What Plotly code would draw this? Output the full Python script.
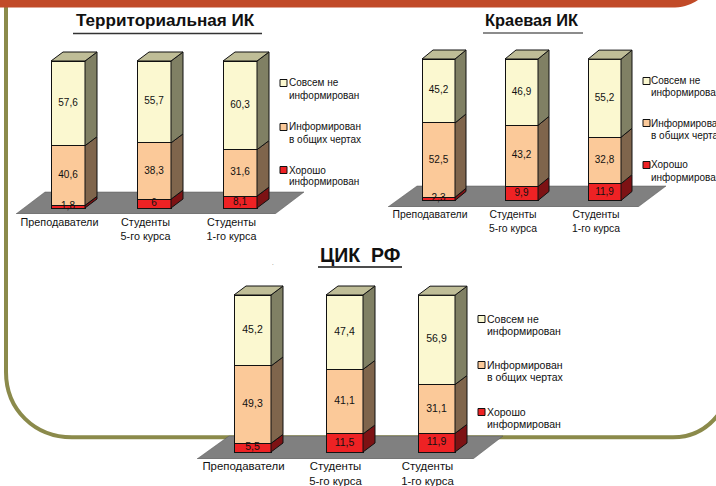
import plotly.graph_objects as go

W, H = 716, 486

categories = ["Преподаватели", "Студенты<br>5-го курса", "Студенты<br>1-го курса"]
series_names = ["Хорошо<br>информирован", "Информирован<br>в общих чертах", "Совсем не<br>информирован"]

terr_good = [1.8, 6, 8.1]
terr_general = [40.6, 38.3, 31.6]
terr_none = [57.6, 55.7, 60.3]

krai_good = [2.3, 9.9, 11.9]
krai_general = [52.5, 43.2, 32.8]
krai_none = [45.2, 46.9, 55.2]

cik_good = [5.5, 11.5, 11.9]
cik_general = [49.3, 41.1, 31.1]
cik_none = [45.2, 47.4, 56.9]

front = ["#EE2224", "#FBC999", "#FBF8D0"]
side = ["#7D1214", "#7F654C", "#808064"]
top_color = "#BFBD97"
floor_color = "#808080"
olive = "#8B8A4B"
FONT = "Liberation Sans, Arial, sans-serif"

charts = [
    dict(series=[terr_good, terr_general, terr_none], bx=51, pitch=86, bw=34, base=208, top=61,
         dx=12, dy=9, floor=[(16, 214), (275, 214), (304, 192), (45, 192)], lab=-8.5,
         leg_x=280, leg_text=288, leg_y=[83, 127, 170], fs=9.5, ls=10, ts=10.8, so=0),
    dict(series=[krai_good, krai_general, krai_none], bx=422, pitch=83, bw=33, base=200.5, top=59,
         dx=11, dy=9, floor=[(388, 207), (638, 207), (666, 186), (417, 186)], lab=-8.5,
         leg_x=643, leg_text=650, leg_y=[81, 123, 165], fs=9.5, ls=10, ts=10.4, so=0),
    dict(series=[cik_good, cik_general, cik_none], bx=234, pitch=92, bw=37, base=452, top=295,
         dx=12, dy=9, floor=[(197, 459), (473, 459), (503, 436), (229, 436)], lab=-9,
         leg_x=478, leg_text=486, leg_y=[319, 365, 412], fs=10, ls=10.5, ts=11.4, so=-1),
]
# legend rows are ordered top to bottom: none, general, good

def px(x):
    return x / W

def py(y):
    return 1 - y / H

fig = go.Figure()
layout = dict(
    width=W, height=H, margin=dict(l=0, r=0, t=0, b=0, autoexpand=False), autosize=False,
    paper_bgcolor="white", plot_bgcolor="rgba(0,0,0,0)", showlegend=False,
    barmode="stack", font=dict(family=FONT, color="#111111"),
)
shapes = []
annotations = []

# frame decoration
shapes.append(dict(type="path", xref="paper", yref="paper", layer="below", line=dict(color=olive, width=4),
                   path=f"M {px(6)},{py(0)} L {px(6)},{py(372)} C {px(6)},{py(410)} {px(35)},{py(437.3)} {px(72)},{py(437.3)} L {px(673)},{py(437.3)} C {px(692)},{py(437.3)} {px(707)},{py(429)} {px(718)},{py(415)}"))
shapes.append(dict(type="path", xref="paper", yref="paper", layer="below", line=dict(width=0), fillcolor="#C14A28",
                   path=f"M {px(0)},{py(0)} L {px(698)},{py(0)} C {px(692)},{py(4)} {px(685)},{py(7)} {px(675)},{py(7.5)} L {px(0)},{py(7.5)} Z"))

for n, c in enumerate(charts):
    suf = "" if n == 0 else str(n + 1)
    xs = [(c["bx"] + c["bw"] / 2 + i * c["pitch"]) for i in range(3)]
    fx = [p[0] for p in c["floor"]]
    fy = [p[1] for p in c["floor"]]
    left, right = min(fx), max(fx) + 2
    bottom, top = max(fy), c["top"] - c["dy"] - 2
    sy = (c["base"] - c["top"]) / 100.0
    sx = c["pitch"]
    cen0 = xs[0]
    to_x = lambda p: (p - cen0) / sx
    to_y = lambda p: (c["base"] - p) / sy
    layout["xaxis" + suf] = dict(domain=[px(left), px(right)], range=[to_x(left), to_x(right)], anchor="y" + suf,
                                 automargin=False, showgrid=False, zeroline=False, showline=False, ticks="",
                                 ticklabelstandoff=c["so"], tickmode="array",
                                 tickvals=[i + c["lab"] / sx for i in range(3)], ticktext=categories,
                                 tickfont=dict(size=c["ts"], family=FONT, color="#111111"), fixedrange=True)
    layout["yaxis" + suf] = dict(domain=[py(bottom), py(top)], range=[to_y(bottom), to_y(top)], anchor="x" + suf,
                                 automargin=False, showgrid=False, zeroline=False, showline=False, showticklabels=False, fixedrange=True)
    # floor
    shapes.append(dict(type="path", xref="x" + suf, yref="y" + suf, layer="below", fillcolor=floor_color,
                       line=dict(color="#555555", width=0.5),
                       path="M " + " L ".join(f"{to_x(a)},{to_y(b)}" for a, b in c["floor"]) + " Z"))
    w = c["bw"] / sx
    ddx = c["dx"] / sx
    ddy = c["dy"] / sy
    cum = [0, 0, 0]
    for s, vals in enumerate(c["series"]):
        fig.add_trace(go.Bar(x=[0, 1, 2], y=vals, width=w, xaxis="x" + suf, yaxis="y" + suf,
                             marker=dict(color=front[s], line=dict(color="#111111", width=1)),
                             name=series_names[s].replace("<br>", " "), hoverinfo="skip"))
        tx, ty = [], []
        for i, v in enumerate(vals):
            r = i + w / 2
            a, b = cum[i], cum[i] + v
            fig.add_trace(go.Scatter(x=[r, r + ddx, r + ddx, r, r], y=[a, a + ddy, b + ddy, b, a],
                                     xaxis="x" + suf, yaxis="y" + suf, mode="lines", fill="toself",
                                     fillcolor=side[s], line=dict(color="#111111", width=1), hoverinfo="skip"))
            tx.append(i)
            ty.append(a + v / 2)
            cum[i] = b
        c.setdefault("labels", []).append((tx, ty, vals))
    for i, h in enumerate(cum):
        l, r = i - w / 2, i + w / 2
        fig.add_trace(go.Scatter(x=[l, r, r + ddx, l + ddx, l], y=[h, h, h + ddy, h + ddy, h],
                                 xaxis="x" + suf, yaxis="y" + suf, mode="lines", fill="toself",
                                 fillcolor=top_color, line=dict(color="#111111", width=1), hoverinfo="skip"))
    for tx, ty, vals in c["labels"]:
        fig.add_trace(go.Scatter(x=tx, y=ty, xaxis="x" + suf, yaxis="y" + suf, mode="text",
                                 text=[str(v).replace(".", ",") for v in vals], textposition="middle center",
                                 textfont=dict(size=c["fs"] + 0.5, family=FONT, color="#111111"), hoverinfo="skip"))
    # legend
    for row, s in enumerate([2, 1, 0]):
        y = c["leg_y"][row]
        shapes.append(dict(type="rect", xref="paper", yref="paper", x0=px(c["leg_x"]), x1=px(c["leg_x"] + 7),
                           y0=py(y + 3.5), y1=py(y - 3.5), fillcolor=front[s], line=dict(color="#111111", width=1)))
        for k, part in enumerate(series_names[s].split("<br>")):
            annotations.append(dict(xref="paper", yref="paper", x=px(c["leg_text"]), y=py(y + k * 12), xanchor="left", yanchor="middle",
                                    text=part, align="left", showarrow=False, borderpad=0,
                                    font=dict(size=c["ls"], family=FONT, color="#111111")))

titles = [
    ("Территориальная ИК", 165, 21, 17.1, (73, 262, 33.5), "#333333"),
    ("Краевая ИК", 531.5, 20, 16.4, (483, 583, 33), "#666666"),
    ("ЦИК  РФ", 360, 255.5, 19.5, (318, 402, 267), "#111111"),
]
for text, x, y, size, (u0, u1, uy), ucol in titles:
    annotations.append(dict(xref="paper", yref="paper", x=px(x), y=py(y), xanchor="center", yanchor="middle",
                            text=f"<b>{text.replace('  ', '&nbsp;&nbsp;')}</b>", showarrow=False, font=dict(size=size, family=FONT, color="#111111")))
    shapes.append(dict(type="line", xref="paper", yref="paper", x0=px(u0), x1=px(u1), y0=py(uy), y1=py(uy),
                       line=dict(color=ucol, width=1.5)))

annotations.append(dict(xref="paper", yref="paper", x=px(273), y=py(263), xanchor="center", yanchor="middle",
                        text=".", showarrow=False, font=dict(size=6, family=FONT, color="#333333")))

layout["shapes"] = shapes
layout["annotations"] = annotations
fig.update_layout(**layout)
fig.write_html("out.html", config=dict(displayModeBar=False),
               post_script="document.body.style.margin='0';document.body.style.overflow='hidden';")
